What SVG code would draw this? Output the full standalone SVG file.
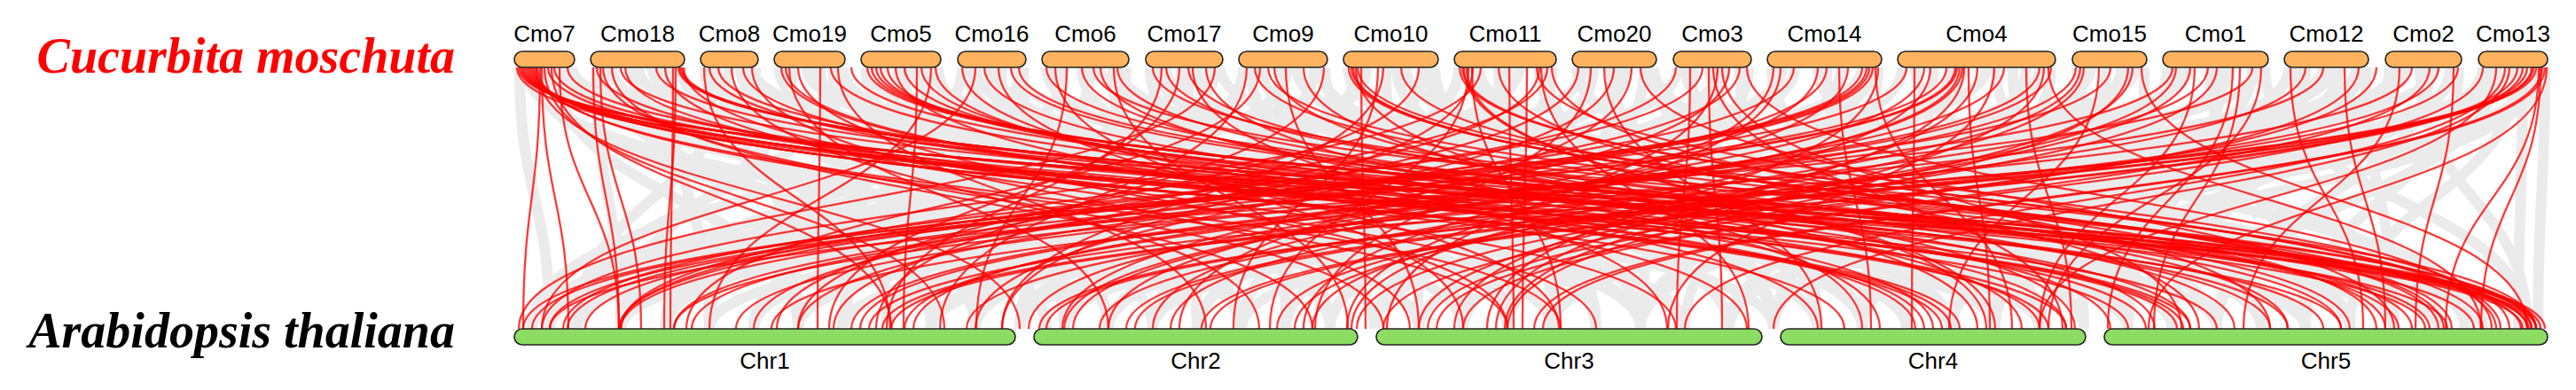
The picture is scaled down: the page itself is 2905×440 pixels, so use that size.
<svg xmlns="http://www.w3.org/2000/svg" width="2905" height="440" viewBox="0 0 2905 440">
<style>
.gr path{fill:none;stroke:#ebebeb;stroke-width:12}
.rd path{fill:none;stroke:#ff0000;stroke-width:2.3;stroke-opacity:.78}
.cmo rect{fill:#ffb35f;stroke:#222;stroke-width:1.6}
.chr rect{fill:#8ddc63;stroke:#222;stroke-width:1.6}
.lab{font-family:"Liberation Sans",Arial,sans-serif;font-size:26px;text-anchor:middle;fill:#000}
.sp{font-family:"Liberation Serif","Times New Roman",serif;font-weight:bold;font-style:italic;font-size:56px;text-anchor:end}
</style>
<rect width="2905" height="440" fill="#fff"/>
<text class="sp" x="513" y="82" fill="#ff0000">Cucurbita moschuta</text>
<text class="sp" x="513" y="392" fill="#000">Arabidopsis thaliana</text>
<g id="connectors">
<g class="gr">
<path d="M586 76C586 224 620 224 620 371"/><path d="M600 76C600 224 1180 224 1180 371"/><path d="M613 76C613 224 2400 224 2400 371"/><path d="M626 76C626 224 900 224 900 371"/><path d="M638 76C638 224 1600 224 1600 371"/><path d="M645 76C645 224 2800 224 2800 371"/>
<path d="M672 76C672 224 700 224 700 371"/><path d="M690 76C690 224 2000 224 2000 371"/><path d="M712 76C712 224 1300 224 1300 371"/><path d="M735 76C735 224 2600 224 2600 371"/><path d="M755 76C755 224 800 224 800 371"/><path d="M768 76C768 224 1750 224 1750 371"/>
<path d="M795 76C795 224 1050 224 1050 371"/><path d="M808 76C808 224 2250 224 2250 371"/><path d="M822 76C822 224 650 224 650 371"/><path d="M835 76C835 224 1500 224 1500 371"/><path d="M848 76C848 224 2700 224 2700 371"/><path d="M852 76C852 224 900 224 900 371"/>
<path d="M878 76C878 224 1900 224 1900 371"/><path d="M893 76C893 224 700 224 700 371"/><path d="M910 76C910 224 2500 224 2500 371"/><path d="M925 76C925 224 1250 224 1250 371"/><path d="M940 76C940 224 1000 224 1000 371"/><path d="M950 76C950 224 2150 224 2150 371"/>
<path d="M976 76C976 224 1400 224 1400 371"/><path d="M994 76C994 224 2750 224 2750 371"/><path d="M1012 76C1012 224 800 224 800 371"/><path d="M1030 76C1030 224 2050 224 2050 371"/><path d="M1045 76C1045 224 1100 224 1100 371"/><path d="M1058 76C1058 224 1700 224 1700 371"/>
<path d="M1085 76C1085 224 600 224 600 371"/><path d="M1100 76C1100 224 2300 224 2300 371"/><path d="M1115 76C1115 224 1550 224 1550 371"/><path d="M1130 76C1130 224 950 224 950 371"/><path d="M1145 76C1145 224 2600 224 2600 371"/><path d="M1154 76C1154 224 1200 224 1200 371"/>
<path d="M1180 76C1180 224 2100 224 2100 371"/><path d="M1200 76C1200 224 750 224 750 371"/><path d="M1220 76C1220 224 1800 224 1800 371"/><path d="M1240 76C1240 224 2850 224 2850 371"/><path d="M1255 76C1255 224 1350 224 1350 371"/><path d="M1270 76C1270 224 1050 224 1050 371"/>
<path d="M1297 76C1297 224 1650 224 1650 371"/><path d="M1315 76C1315 224 2450 224 2450 371"/><path d="M1333 76C1333 224 620 224 620 371"/><path d="M1350 76C1350 224 1950 224 1950 371"/><path d="M1365 76C1365 224 1150 224 1150 371"/><path d="M1376 76C1376 224 2700 224 2700 371"/>
<path d="M1402 76C1402 224 850 224 850 371"/><path d="M1422 76C1422 224 2200 224 2200 371"/><path d="M1442 76C1442 224 1450 224 1450 371"/><path d="M1462 76C1462 224 2550 224 2550 371"/><path d="M1482 76C1482 224 1000 224 1000 371"/><path d="M1494 76C1494 224 1850 224 1850 371"/>
<path d="M1520 76C1520 224 2350 224 2350 371"/><path d="M1541 76C1541 224 700 224 700 371"/><path d="M1563 76C1563 224 1600 224 1600 371"/><path d="M1585 76C1585 224 2800 224 2800 371"/><path d="M1605 76C1605 224 1200 224 1200 371"/><path d="M1618 76C1618 224 2000 224 2000 371"/>
<path d="M1645 76C1645 224 1100 224 1100 371"/><path d="M1668 76C1668 224 2650 224 2650 371"/><path d="M1690 76C1690 224 1750 224 1750 371"/><path d="M1713 76C1713 224 600 224 600 371"/><path d="M1735 76C1735 224 2150 224 2150 371"/><path d="M1751 76C1751 224 1400 224 1400 371"/>
<path d="M1778 76C1778 224 2500 224 2500 371"/><path d="M1797 76C1797 224 1300 224 1300 371"/><path d="M1816 76C1816 224 2050 224 2050 371"/><path d="M1835 76C1835 224 900 224 900 371"/><path d="M1854 76C1854 224 1650 224 1650 371"/><path d="M1865 76C1865 224 2780 224 2780 371"/>
<path d="M1892 76C1892 224 750 224 750 371"/><path d="M1910 76C1910 224 1850 224 1850 371"/><path d="M1928 76C1928 224 2400 224 2400 371"/><path d="M1946 76C1946 224 1150 224 1150 371"/><path d="M1962 76C1962 224 2050 224 2050 371"/><path d="M1972 76C1972 224 1550 224 1550 371"/>
<path d="M1998 76C1998 224 2300 224 2300 371"/><path d="M2024 76C2024 224 1000 224 1000 371"/><path d="M2050 76C2050 224 2700 224 2700 371"/><path d="M2076 76C2076 224 1450 224 1450 371"/><path d="M2100 76C2100 224 620 224 620 371"/><path d="M2118 76C2118 224 1900 224 1900 371"/>
<path d="M2145 76C2145 224 1250 224 1250 371"/><path d="M2180 76C2180 224 2100 224 2100 371"/><path d="M2215 76C2215 224 850 224 850 371"/><path d="M2250 76C2250 224 2550 224 2550 371"/><path d="M2285 76C2285 224 1700 224 1700 371"/><path d="M2313 76C2313 224 2000 224 2000 371"/>
<path d="M2342 76C2342 224 2750 224 2750 371"/><path d="M2358 76C2358 224 1050 224 1050 371"/><path d="M2375 76C2375 224 2250 224 2250 371"/><path d="M2392 76C2392 224 1550 224 1550 371"/><path d="M2408 76C2408 224 700 224 700 371"/><path d="M2418 76C2418 224 2400 224 2400 371"/>
<path d="M2444 76C2444 224 1950 224 1950 371"/><path d="M2468 76C2468 224 900 224 900 371"/><path d="M2492 76C2492 224 2600 224 2600 371"/><path d="M2516 76C2516 224 1300 224 1300 371"/><path d="M2540 76C2540 224 2150 224 2150 371"/><path d="M2554 76C2554 224 2850 224 2850 371"/>
<path d="M2581 76C2581 224 1600 224 1600 371"/><path d="M2600 76C2600 224 2450 224 2450 371"/><path d="M2619 76C2619 224 800 224 800 371"/><path d="M2638 76C2638 224 2000 224 2000 371"/><path d="M2657 76C2657 224 1200 224 1200 371"/><path d="M2668 76C2668 224 2700 224 2700 371"/>
<path d="M2695 76C2695 224 2300 224 2300 371"/><path d="M2712 76C2712 224 1400 224 1400 371"/><path d="M2729 76C2729 224 2850 224 2850 371"/><path d="M2746 76C2746 224 950 224 950 371"/><path d="M2763 76C2763 224 2100 224 2100 371"/><path d="M2773 76C2773 224 2600 224 2600 371"/>
<path d="M2800 76C2800 224 1750 224 1750 371"/><path d="M2815 76C2815 224 2500 224 2500 371"/><path d="M2830 76C2830 224 1050 224 1050 371"/><path d="M2845 76C2845 224 2840 224 2840 371"/><path d="M2860 76C2860 224 1950 224 1950 371"/><path d="M2870 76C2870 224 2862 224 2862 371"/>
<path d="M593 76C593 224 1400 224 1400 371"/><path d="M632 76C632 224 2200 224 2200 371"/><path d="M680 76C680 224 1100 224 1100 371"/><path d="M720 76C720 224 2300 224 2300 371"/><path d="M745 76C745 224 1650 224 1650 371"/><path d="M800 76C800 224 1850 224 1850 371"/><path d="M840 76C840 224 1250 224 1250 371"/><path d="M885 76C885 224 1400 224 1400 371"/><path d="M918 76C918 224 2750 224 2750 371"/><path d="M945 76C945 224 650 224 650 371"/>
<path d="M985 76C985 224 1850 224 1850 371"/><path d="M1020 76C1020 224 1200 224 1200 371"/><path d="M1050 76C1050 224 2450 224 2450 371"/><path d="M1090 76C1090 224 1750 224 1750 371"/><path d="M1122 76C1122 224 2150 224 2150 371"/><path d="M1150 76C1150 224 700 224 700 371"/><path d="M1190 76C1190 224 1500 224 1500 371"/><path d="M1230 76C1230 224 950 224 950 371"/><path d="M1262 76C1262 224 2650 224 2650 371"/><path d="M1305 76C1305 224 2250 224 2250 371"/>
<path d="M1340 76C1340 224 1350 224 1350 371"/><path d="M1370 76C1370 224 850 224 850 371"/><path d="M1410 76C1410 224 1700 224 1700 371"/><path d="M1452 76C1452 224 650 224 650 371"/><path d="M1488 76C1488 224 2400 224 2400 371"/><path d="M1530 76C1530 224 1000 224 1000 371"/><path d="M1575 76C1575 224 2100 224 2100 371"/><path d="M1612 76C1612 224 1800 224 1800 371"/><path d="M1655 76C1655 224 2450 224 2450 371"/><path d="M1700 76C1700 224 1300 224 1300 371"/>
<path d="M1745 76C1745 224 2000 224 2000 371"/><path d="M1785 76C1785 224 650 224 650 371"/><path d="M1825 76C1825 224 1700 224 1700 371"/><path d="M1860 76C1860 224 2300 224 2300 371"/><path d="M1900 76C1900 224 2650 224 2650 371"/><path d="M1938 76C1938 224 1000 224 1000 371"/><path d="M1968 76C1968 224 1750 224 1750 371"/><path d="M2010 76C2010 224 850 224 850 371"/><path d="M2060 76C2060 224 2150 224 2150 371"/><path d="M2110 76C2110 224 1350 224 1350 371"/>
<path d="M2160 76C2160 224 2800 224 2800 371"/><path d="M2200 76C2200 224 1500 224 1500 371"/><path d="M2240 76C2240 224 650 224 650 371"/><path d="M2270 76C2270 224 2350 224 2350 371"/><path d="M2300 76C2300 224 1100 224 1100 371"/><path d="M2350 76C2350 224 1850 224 1850 371"/><path d="M2400 76C2400 224 1250 224 1250 371"/><path d="M2455 76C2455 224 1650 224 1650 371"/><path d="M2505 76C2505 224 2400 224 2400 371"/><path d="M2548 76C2548 224 700 224 700 371"/>
<path d="M2590 76C2590 224 2250 224 2250 371"/><path d="M2630 76C2630 224 1000 224 1000 371"/><path d="M2662 76C2662 224 1850 224 1850 371"/><path d="M2700 76C2700 224 1150 224 1150 371"/><path d="M2740 76C2740 224 2500 224 2500 371"/><path d="M2768 76C2768 224 1750 224 1750 371"/><path d="M2808 76C2808 224 1300 224 1300 371"/><path d="M2838 76C2838 224 2650 224 2650 371"/><path d="M2866 76C2866 224 2200 224 2200 371"/>
</g>
<g class="rd">
<path d="M585 76C585 224 2860 224 2860 371"/><path d="M587 76C587 224 2852 224 2852 371"/><path d="M589 76C589 224 2845 224 2845 371"/><path d="M591 76C591 224 2470 224 2470 371"/><path d="M593 76C593 224 2462 224 2462 371"/><path d="M595 76C595 224 2455 224 2455 371"/><path d="M597 76C597 224 2210 224 2210 371"/><path d="M599 76C599 224 2200 224 2200 371"/><path d="M601 76C601 224 2190 224 2190 371"/><path d="M603 76C603 224 1760 224 1760 371"/><path d="M606 76C606 224 1700 224 1700 371"/><path d="M609 76C609 224 590 224 590 371"/><path d="M611 76C611 224 641 224 641 371"/><path d="M614 76C614 224 1065 224 1065 371"/><path d="M618 76C618 224 2330 224 2330 371"/><path d="M622 76C622 224 1005 224 1005 371"/><path d="M631 76C631 224 698 224 698 371"/><path d="M640 76C640 224 2640 224 2640 371"/>
<path d="M669 76C669 224 698 224 698 371"/><path d="M673 76C673 224 2310 224 2310 371"/><path d="M677 76C677 224 723 224 723 371"/><path d="M690 76C690 224 1480 224 1480 371"/><path d="M700 76C700 224 2735 224 2735 371"/><path d="M740 76C740 224 2760 224 2760 371"/><path d="M759 76C759 224 756 224 756 371"/><path d="M762 76C762 224 749 224 749 371"/><path d="M765 76C765 224 2870 224 2870 371"/><path d="M767 76C767 224 2865 224 2865 371"/><path d="M769 76C769 224 2855 224 2855 371"/><path d="M771 76C771 224 1890 224 1890 371"/>
<path d="M794 76C794 224 1004 224 1004 371"/><path d="M800 76C800 224 2420 224 2420 371"/><path d="M825 76C825 224 1420 224 1420 371"/><path d="M838 76C838 224 2300 224 2300 371"/><path d="M848 76C848 224 1590 224 1590 371"/>
<path d="M881 76C881 224 2160 224 2160 371"/><path d="M886 76C886 224 2170 224 2170 371"/><path d="M900 76C900 224 1700 224 1700 371"/><path d="M925 76C925 224 922 224 922 371"/><path d="M937 76C937 224 2580 224 2580 371"/><path d="M945 76C945 224 1360 224 1360 371"/>
<path d="M978 76C978 224 2860 224 2860 371"/><path d="M983 76C983 224 2850 224 2850 371"/><path d="M988 76C988 224 2843 224 2843 371"/><path d="M993 76C993 224 2790 224 2790 371"/><path d="M1001 76C1001 224 2560 224 2560 371"/><path d="M1010 76C1010 224 1970 224 1970 371"/><path d="M1034 76C1034 224 1019 224 1019 371"/><path d="M1039 76C1039 224 2330 224 2330 371"/><path d="M1050 76C1050 224 800 224 800 371"/>
<path d="M1085 76C1085 224 2050 224 2050 371"/><path d="M1100 76C1100 224 611 224 611 371"/><path d="M1126 76C1126 224 1758 224 1758 371"/><path d="M1140 76C1140 224 2640 224 2640 371"/><path d="M1149 76C1149 224 2720 224 2720 371"/>
<path d="M1180 76C1180 224 2705 224 2705 371"/><path d="M1203 76C1203 224 1101 224 1101 371"/><path d="M1220 76C1220 224 2430 224 2430 371"/><path d="M1233 76C1233 224 2860 224 2860 371"/><path d="M1241 76C1241 224 2280 224 2280 371"/><path d="M1256 76C1256 224 1520 224 1520 371"/>
<path d="M1300 76C1300 224 2855 224 2855 371"/><path d="M1315 76C1315 224 2650 224 2650 371"/><path d="M1330 76C1330 224 935 224 935 371"/><path d="M1345 76C1345 224 1880 224 1880 371"/><path d="M1360 76C1360 224 2120 224 2120 371"/><path d="M1370 76C1370 224 585 224 585 371"/>
<path d="M1406 76C1406 224 1060 224 1060 371"/><path d="M1415 76C1415 224 2690 224 2690 371"/><path d="M1421 76C1421 224 774 224 774 371"/><path d="M1437 76C1437 224 2340 224 2340 371"/><path d="M1450 76C1450 224 1600 224 1600 371"/><path d="M1493 76C1493 224 988 224 988 371"/>
<path d="M1521 76C1521 224 2765 224 2765 371"/><path d="M1524 76C1524 224 2756 224 2756 371"/><path d="M1526 76C1526 224 2750 224 2750 371"/><path d="M1529 76C1529 224 2100 224 2100 371"/><path d="M1531 76C1531 224 2860 224 2860 371"/><path d="M1535 76C1535 224 1540 224 1540 371"/><path d="M1554 76C1554 224 1391 224 1391 371"/><path d="M1600 76C1600 224 900 224 900 371"/>
<path d="M1646 76C1646 224 2820 224 2820 371"/><path d="M1649 76C1649 224 2815 224 2815 371"/><path d="M1651 76C1651 224 2250 224 2250 371"/><path d="M1654 76C1654 224 2240 224 2240 371"/><path d="M1656 76C1656 224 1432 224 1432 371"/><path d="M1661 76C1661 224 1130 224 1130 371"/><path d="M1670 76C1670 224 611 224 611 371"/><path d="M1702 76C1702 224 1707 224 1707 371"/><path d="M1722 76C1722 224 1717 224 1717 371"/><path d="M1733 76C1733 224 2830 224 2830 371"/><path d="M1736 76C1736 224 876 224 876 371"/><path d="M1738 76C1738 224 1972 224 1972 371"/><path d="M1745 76C1745 224 700 224 700 371"/>
<path d="M1794 76C1794 224 1483 224 1483 371"/><path d="M1809 76C1809 224 2054 224 2054 371"/><path d="M1820 76C1820 224 1100 224 1100 371"/><path d="M1850 76C1850 224 2700 224 2700 371"/>
<path d="M1906 76C1906 224 1891 224 1891 371"/><path d="M1920 76C1920 224 635 224 635 371"/><path d="M1927 76C1927 224 1942 224 1942 371"/><path d="M1932 76C1932 224 2326 224 2326 371"/><path d="M1937 76C1937 224 1564 224 1564 371"/><path d="M1942 76C1942 224 2460 224 2460 371"/><path d="M1950 76C1950 224 1198 224 1198 371"/><path d="M1962 76C1962 224 850 224 850 371"/>
<path d="M2008 76C2008 224 1519 224 1519 371"/><path d="M2023 76C2023 224 698 224 698 371"/><path d="M2050 76C2050 224 1250 224 1250 371"/><path d="M2074 76C2074 224 2110 224 2110 371"/><path d="M2084 76C2084 224 1300 224 1300 371"/><path d="M2100 76C2100 224 600 224 600 371"/><path d="M2105 76C2105 224 590 224 590 371"/><path d="M2108 76C2108 224 640 224 640 371"/><path d="M2112 76C2112 224 660 224 660 371"/><path d="M2115 76C2115 224 2269 224 2269 371"/><path d="M2118 76C2118 224 1677 224 1677 371"/>
<path d="M2159 76C2159 224 2156 224 2156 371"/><path d="M2177 76C2177 224 1524 224 1524 371"/><path d="M2195 76C2195 224 700 224 700 371"/><path d="M2205 76C2205 224 760 224 760 371"/><path d="M2207 76C2207 224 780 224 780 371"/><path d="M2210 76C2210 224 1200 224 1200 371"/><path d="M2213 76C2213 224 1210 224 1210 371"/><path d="M2215 76C2215 224 1687 224 1687 371"/><path d="M2220 76C2220 224 2244 224 2244 371"/><path d="M2249 76C2249 224 1881 224 1881 371"/><path d="M2285 76C2285 224 2336 224 2336 371"/><path d="M2300 76C2300 224 960 224 960 371"/><path d="M2305 76C2305 224 1697 224 1697 371"/><path d="M2310 76C2310 224 2798 224 2798 371"/><path d="M2313 76C2313 224 970 224 970 371"/>
<path d="M2341 76C2341 224 1020 224 1020 371"/><path d="M2346 76C2346 224 1320 224 1320 371"/><path d="M2367 76C2367 224 2198 224 2198 371"/><path d="M2380 76C2380 224 830 224 830 371"/><path d="M2405 76C2405 224 1600 224 1600 371"/><path d="M2415 76C2415 224 2850 224 2850 371"/>
<path d="M2454 76C2454 224 1440 224 1440 371"/><path d="M2470 76C2470 224 1460 224 1460 371"/><path d="M2475 76C2475 224 2300 224 2300 371"/><path d="M2490 76C2490 224 1090 224 1090 371"/><path d="M2518 76C2518 224 2377 224 2377 371"/><path d="M2526 76C2526 224 2429 224 2429 371"/><path d="M2540 76C2540 224 620 224 620 371"/>
<path d="M2583 76C2583 224 2665 224 2665 371"/><path d="M2600 76C2600 224 1240 224 1240 371"/><path d="M2644 76C2644 224 2690 224 2690 371"/><path d="M2660 76C2660 224 1610 224 1610 371"/>
<path d="M2706 76C2706 224 2530 224 2530 371"/><path d="M2720 76C2720 224 980 224 980 371"/><path d="M2740 76C2740 224 1650 224 1650 371"/><path d="M2767 76C2767 224 2724 224 2724 371"/><path d="M2772 76C2772 224 1280 224 1280 371"/>
<path d="M2839 76C2839 224 1355 224 1355 371"/><path d="M2845 76C2845 224 1365 224 1365 371"/><path d="M2850 76C2850 224 1172 224 1172 371"/><path d="M2855 76C2855 224 1180 224 1180 371"/><path d="M2857 76C2857 224 995 224 995 371"/><path d="M2860 76C2860 224 1005 224 1005 371"/><path d="M2863 76C2863 224 2758 224 2758 371"/><path d="M2865 76C2865 224 2798 224 2798 371"/><path d="M2867 76C2867 224 1730 224 1730 371"/><path d="M2870 76C2870 224 1740 224 1740 371"/><path d="M2872 76C2872 224 2423 224 2423 371"/><path d="M2815 76C2815 224 2300 224 2300 371"/><path d="M2825 76C2825 224 1900 224 1900 371"/>
<path d="M583 76C583 224 2400 224 2400 371"/><path d="M605 76C605 224 1150 224 1150 371"/><path d="M625 76C625 224 2500 224 2500 371"/><path d="M680 76C680 224 1560 224 1560 371"/><path d="M705 76C705 224 2080 224 2080 371"/><path d="M750 76C750 224 1800 224 1800 371"/><path d="M810 76C810 224 2620 224 2620 371"/><path d="M890 76C890 224 1250 224 1250 371"/><path d="M960 76C960 224 2740 224 2740 371"/><path d="M1020 76C1020 224 2470 224 2470 371"/><path d="M1055 76C1055 224 2180 224 2180 371"/><path d="M1110 76C1110 224 2380 224 2380 371"/><path d="M1190 76C1190 224 1650 224 1650 371"/><path d="M1260 76C1260 224 2520 224 2520 371"/><path d="M1310 76C1310 224 1000 224 1000 371"/><path d="M1340 76C1340 224 2580 224 2580 371"/><path d="M1430 76C1430 224 2800 224 2800 371"/><path d="M1470 76C1470 224 2230 224 2230 371"/><path d="M1560 76C1560 224 1130 224 1130 371"/><path d="M1580 76C1580 224 2680 224 2680 371"/><path d="M1660 76C1660 224 1760 224 1760 371"/><path d="M1690 76C1690 224 2480 224 2480 371"/><path d="M1750 76C1750 224 2560 224 2560 371"/><path d="M1780 76C1780 224 940 224 940 371"/><path d="M1840 76C1840 224 1330 224 1330 371"/><path d="M1890 76C1890 224 700 224 700 371"/><path d="M1970 76C1970 224 2810 224 2810 371"/><path d="M2000 76C2000 224 1470 224 1470 371"/><path d="M2060 76C2060 224 900 224 900 371"/><path d="M2150 76C2150 224 620 224 620 371"/><path d="M2170 76C2170 224 1160 224 1160 371"/><path d="M2230 76C2230 224 1640 224 1640 371"/><path d="M2260 76C2260 224 1030 224 1030 371"/><path d="M2350 76C2350 224 1480 224 1480 371"/><path d="M2400 76C2400 224 1700 224 1700 371"/><path d="M2450 76C2450 224 760 224 760 371"/><path d="M2500 76C2500 224 1530 224 1530 371"/><path d="M2550 76C2550 224 2310 224 2310 371"/><path d="M2620 76C2620 224 870 224 870 371"/><path d="M2680 76C2680 224 1560 224 1560 371"/><path d="M2750 76C2750 224 1270 224 1270 371"/><path d="M2800 76C2800 224 1620 224 1620 371"/><path d="M2830 76C2830 224 2000 224 2000 371"/>
</g>
</g>
<g id="Cmo7" class="cmo"><rect x="580" y="58" width="68" height="18" rx="9"/><text class="lab" x="614" y="47">Cmo7</text></g>
<g id="Cmo18" class="cmo"><rect x="666" y="58" width="106" height="18" rx="9"/><text class="lab" x="719" y="47">Cmo18</text></g>
<g id="Cmo8" class="cmo"><rect x="790" y="58" width="65" height="18" rx="9"/><text class="lab" x="822.5" y="47">Cmo8</text></g>
<g id="Cmo19" class="cmo"><rect x="873" y="58" width="80" height="18" rx="9"/><text class="lab" x="913" y="47">Cmo19</text></g>
<g id="Cmo5" class="cmo"><rect x="971" y="58" width="90" height="18" rx="9"/><text class="lab" x="1016" y="47">Cmo5</text></g>
<g id="Cmo16" class="cmo"><rect x="1080" y="58" width="77" height="18" rx="9"/><text class="lab" x="1118.5" y="47">Cmo16</text></g>
<g id="Cmo6" class="cmo"><rect x="1175" y="58" width="98" height="18" rx="9"/><text class="lab" x="1224" y="47">Cmo6</text></g>
<g id="Cmo17" class="cmo"><rect x="1292" y="58" width="87" height="18" rx="9"/><text class="lab" x="1335.5" y="47">Cmo17</text></g>
<g id="Cmo9" class="cmo"><rect x="1397" y="58" width="100" height="18" rx="9"/><text class="lab" x="1447" y="47">Cmo9</text></g>
<g id="Cmo10" class="cmo"><rect x="1515" y="58" width="107" height="18" rx="9"/><text class="lab" x="1568.5" y="47">Cmo10</text></g>
<g id="Cmo11" class="cmo"><rect x="1640" y="58" width="115" height="18" rx="9"/><text class="lab" x="1697.5" y="47">Cmo11</text></g>
<g id="Cmo20" class="cmo"><rect x="1773" y="58" width="95" height="18" rx="9"/><text class="lab" x="1820.5" y="47">Cmo20</text></g>
<g id="Cmo3" class="cmo"><rect x="1887" y="58" width="88" height="18" rx="9"/><text class="lab" x="1931" y="47">Cmo3</text></g>
<g id="Cmo14" class="cmo"><rect x="1993" y="58" width="129" height="18" rx="9"/><text class="lab" x="2057.5" y="47">Cmo14</text></g>
<g id="Cmo4" class="cmo"><rect x="2140" y="58" width="178" height="18" rx="9"/><text class="lab" x="2229" y="47">Cmo4</text></g>
<g id="Cmo15" class="cmo"><rect x="2337" y="58" width="84" height="18" rx="9"/><text class="lab" x="2379" y="47">Cmo15</text></g>
<g id="Cmo1" class="cmo"><rect x="2439" y="58" width="119" height="18" rx="9"/><text class="lab" x="2498.5" y="47">Cmo1</text></g>
<g id="Cmo12" class="cmo"><rect x="2576" y="58" width="95" height="18" rx="9"/><text class="lab" x="2623.5" y="47">Cmo12</text></g>
<g id="Cmo2" class="cmo"><rect x="2690" y="58" width="86" height="18" rx="9"/><text class="lab" x="2733" y="47">Cmo2</text></g>
<g id="Cmo13" class="cmo"><rect x="2795" y="58" width="78" height="18" rx="9"/><text class="lab" x="2834" y="47">Cmo13</text></g>
<g id="Chr1" class="chr"><rect x="580" y="371" width="565" height="18" rx="9"/><text class="lab" x="862.5" y="416">Chr1</text></g>
<g id="Chr2" class="chr"><rect x="1166" y="371" width="365" height="18" rx="9"/><text class="lab" x="1348.5" y="416">Chr2</text></g>
<g id="Chr3" class="chr"><rect x="1552" y="371" width="435" height="18" rx="9"/><text class="lab" x="1769.5" y="416">Chr3</text></g>
<g id="Chr4" class="chr"><rect x="2008" y="371" width="344" height="18" rx="9"/><text class="lab" x="2180" y="416">Chr4</text></g>
<g id="Chr5" class="chr"><rect x="2373" y="371" width="500" height="18" rx="9"/><text class="lab" x="2623" y="416">Chr5</text></g>
</svg>
